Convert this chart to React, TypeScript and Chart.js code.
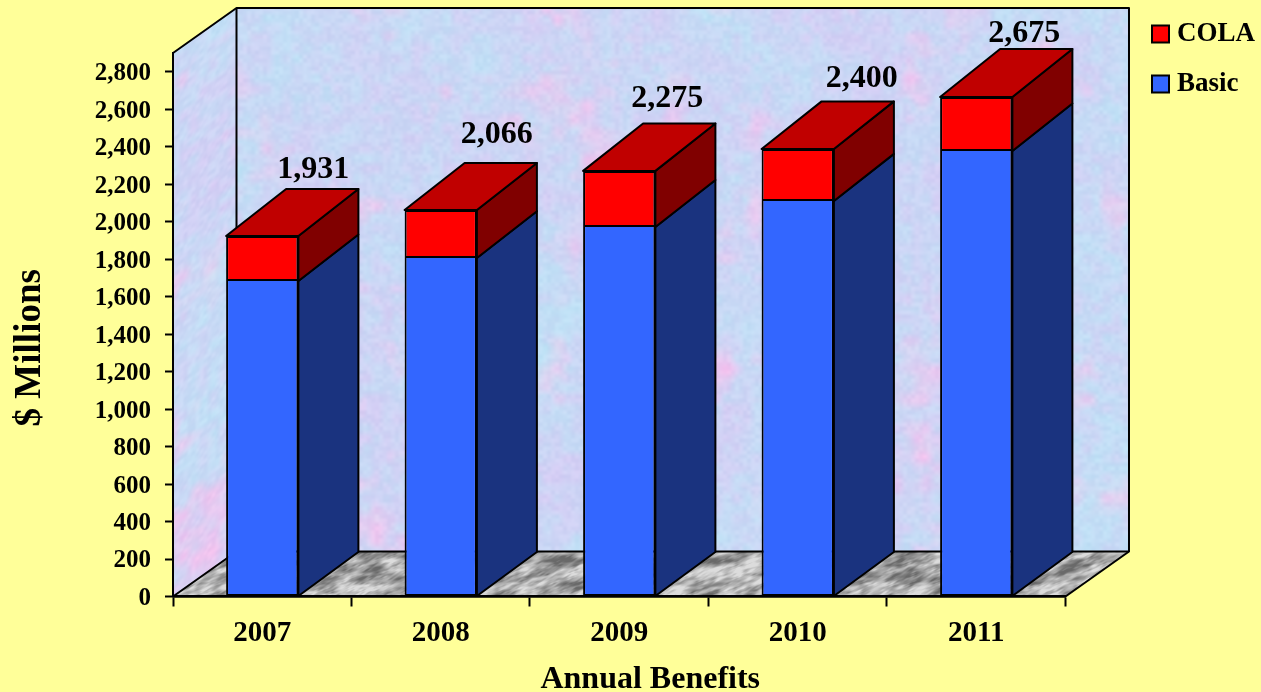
import React, { useEffect, useRef } from "react";
import { Chart, registerables } from "chart.js";

Chart.register(...registerables);

const years = ["2007", "2008", "2009", "2010", "2011"];
const basic = [1683, 1806, 1972, 2110, 2377];
const cola = [241, 256, 299, 278, 288];
const totals = ["1,931", "2,066", "2,275", "2,400", "2,675"];

const PAGE = "#FFFF99";
const SERIF = "'Liberation Serif', 'Times New Roman', serif";
const WALL_DX = 63.5;
const WALL_DY = 45;
const BAR_DX = 60;
const LABEL_NUDGE = [
  [51, -66], [56, -75], [48, -72], [64, -70], [48, -63],
];

const hash = (x: number, y: number, s: number) => {
  const v = Math.sin(x * 127.1 + y * 311.7 + s * 74.7) * 43758.5453;
  return v - Math.floor(v);
};
const noise = (x: number, y: number, s: number) => {
  const xi = Math.floor(x), yi = Math.floor(y);
  let fx = x - xi, fy = y - yi;
  fx = fx * fx * (3 - 2 * fx);
  fy = fy * fy * (3 - 2 * fy);
  const a = hash(xi, yi, s), b = hash(xi + 1, yi, s);
  const c = hash(xi, yi + 1, s), d = hash(xi + 1, yi + 1, s);
  return a + (b - a) * fx + (c - a) * fy + (a - b - c + d) * fx * fy;
};

function makeTexture(w: number, h: number, shade: (x: number, y: number) => number[]) {
  const c = document.createElement("canvas");
  c.width = w;
  c.height = h;
  const g = c.getContext("2d")!;
  const img = g.createImageData(w, h);
  for (let y = 0; y < h; y++) {
    for (let x = 0; x < w; x++) {
      const [r, gg, b] = shade(x, y);
      const i = (y * w + x) * 4;
      img.data[i] = r;
      img.data[i + 1] = gg;
      img.data[i + 2] = b;
      img.data[i + 3] = 255;
    }
  }
  g.putImageData(img, 0, 0);
  return c;
}

const wallShade = (x: number, y: number) => {
  const pink = Math.max(0, noise(x / 40, y / 40, 1) * 0.65 + noise(x / 14, y / 14, 2) * 0.35 - 0.58) * 2.6;
  const lilac = noise(x / 60, y / 60, 3) * 0.5 + noise(x / 10, y / 10, 4) * 0.5;
  const fine = noise(x / 4, y / 4, 5) - 0.5;
  const cyan = noise(x / 80, y / 80, 6);
  let r = 192 + lilac * 26 + fine * 12 - cyan * 6;
  let g = 224 - lilac * 24 + fine * 10 + cyan * 6;
  let b = 246 - lilac * 2 + fine * 6;
  r += pink * 36;
  g -= pink * 14;
  b -= pink * 6;
  return [r, g, b];
};

const floorShade = (x: number, y: number) => {
  const n =
    noise(x / 22, y / 10, 7) * 0.45 + noise(x / 8, y / 5, 8) * 0.35 + noise(x / 3, y / 2.5, 9) * 0.2;
  const v = 105 + Math.min(1, Math.max(0, (n - 0.25) * 2.1)) * 115;
  return [v, v, v];
};

let textures: { wall: HTMLCanvasElement; floor: HTMLCanvasElement } | null = null;
const getTextures = () => {
  if (!textures) {
    textures = { wall: makeTexture(960, 640, wallShade), floor: makeTexture(960, 50, floorShade) };
  }
  return textures;
};

const poly = (ctx: CanvasRenderingContext2D, pts: number[][]) => {
  ctx.beginPath();
  pts.forEach(([x, y], i) => (i ? ctx.lineTo(x, y) : ctx.moveTo(x, y)));
  ctx.closePath();
};

const face = (ctx: CanvasRenderingContext2D, pts: number[][], fill: string) => {
  poly(ctx, pts);
  ctx.fillStyle = fill;
  ctx.fill();
  ctx.lineWidth = 2;
  ctx.strokeStyle = "#000";
  ctx.lineJoin = "round";
  ctx.stroke();
};

const shifted = (chart: any, owner: any, method: string, dx: number, dy: number) => {
  const orig = owner[method].bind(owner);
  owner[method] = (...args: any[]) => {
    chart.ctx.save();
    chart.ctx.translate(dx, dy);
    orig(...args);
    chart.ctx.restore();
  };
};

const stagePlugin = {
  id: "stage",
  afterLayout(chart: any) {
    const lg = chart.legend;
    if (lg) {
      lg.left = 1157.5 - lg.options.labels.padding;
      lg.right = 1261;
      lg.top = -2.5;
      lg.bottom = 140;
    }
    const { x, y } = chart.scales;
    if (!y.__moved) {
      shifted(chart, y, "drawTitle", 0, 23);
      shifted(chart, y, "drawLabels", 0, 2);
      shifted(chart, x, "drawTitle", 31, 2);
      y.__moved = true;
    }
  },
  beforeDraw(chart: any) {
    const { ctx, width, height, chartArea: a } = chart;
    const { wall, floor } = getTextures();
    ctx.save();
    ctx.fillStyle = PAGE;
    ctx.fillRect(0, 0, width, height);

    const bl = a.left + WALL_DX;
    const br = a.right + WALL_DX;
    const bt = a.top - WALL_DY;
    const bb = a.bottom - WALL_DY;

    // back wall
    ctx.drawImage(wall, 0, 0, br - bl, bb - bt, bl, bt, br - bl, bb - bt);

    // side wall
    ctx.save();
    poly(ctx, [[a.left, a.top], [bl, bt], [bl, bb], [a.left, a.bottom]]);
    ctx.clip();
    ctx.transform(1, -WALL_DY / WALL_DX, 0, 1, a.left, a.top);
    ctx.drawImage(wall, 200, 50, WALL_DX, a.bottom - a.top, 0, 0, WALL_DX, a.bottom - a.top);
    ctx.restore();

    // floor
    ctx.save();
    poly(ctx, [[a.left, a.bottom], [bl, bb], [br, bb], [a.right, a.bottom]]);
    ctx.clip();
    ctx.transform(1, 0, -WALL_DX / WALL_DY, 1, a.left + WALL_DX, bb);
    ctx.drawImage(floor, 0, 0, a.right - a.left, WALL_DY);
    ctx.restore();

    ctx.lineWidth = 2;
    ctx.strokeStyle = "#000";
    ctx.lineJoin = "round";
    poly(ctx, [[a.left, a.top], [bl, bt], [br, bt], [br, bb], [a.right, a.bottom], [a.left, a.bottom]]);
    ctx.stroke();
    ctx.beginPath();
    ctx.moveTo(bl, bt);
    ctx.lineTo(bl, bb);
    ctx.lineTo(br, bb);
    ctx.moveTo(bl, bb);
    ctx.lineTo(a.left, a.bottom);
    ctx.stroke();
    ctx.restore();
  },
  beforeDatasetsDraw(chart: any) {
    const { ctx, chartArea: area } = chart;
    const lower = chart.getDatasetMeta(0).data;
    const upper = chart.getDatasetMeta(1).data;
    // the receding edges lengthen a little with height, as in a perspective view
    const back = (py: number) => py - (44 + ((area.bottom - py) / 500) * 4);
    ctx.save();
    lower.forEach((b: any, i: number) => {
      const t = upper[i];
      const r = b.x + b.width / 2;
      const l = b.x - b.width / 2;
      face(ctx, [[r, b.base], [r + BAR_DX, back(b.base)], [r + BAR_DX, back(b.y)], [r, b.y]], "#1A337F");
      face(ctx, [[r, b.y], [r + BAR_DX, back(b.y)], [r + BAR_DX, back(t.y)], [r, t.y]], "#800000");
      face(ctx, [[l, t.y], [l + BAR_DX, back(t.y)], [r + BAR_DX, back(t.y)], [r, t.y]], "#C00000");
    });
    ctx.restore();
  },
  afterDatasetsDraw(chart: any) {
    const { ctx } = chart;
    const upper = chart.getDatasetMeta(1).data;
    ctx.save();
    ctx.fillStyle = "#000";
    ctx.font = `bold 32px ${SERIF}`;
    ctx.textAlign = "center";
    ctx.textBaseline = "middle";
    upper.forEach((t: any, i: number) => {
      ctx.fillText(totals[i], t.x + LABEL_NUDGE[i][0], t.y + LABEL_NUDGE[i][1]);
    });
    ctx.restore();
  },
};

export default function App() {
  const ref = useRef<HTMLCanvasElement>(null);

  useEffect(() => {
    document.body.style.margin = "0";
    document.body.style.background = PAGE;
    const chart = new Chart(ref.current!, {
      type: "bar",
      plugins: [stagePlugin as any],
      data: {
        labels: years,
        datasets: [
          { label: "Basic", data: basic, backgroundColor: "#3366FF", borderColor: "#000", borderWidth: 2, borderSkipped: "top" },
          { label: "COLA", data: cola, backgroundColor: "#FF0000", borderColor: "#000", borderWidth: 2, borderSkipped: false },
        ],
      },
      options: {
        responsive: false,
        animation: false,
        devicePixelRatio: 1,
        layout: { padding: { top: 53, left: 0, right: 65, bottom: 0 } },
        datasets: { bar: { barPercentage: 0.81, categoryPercentage: 0.5 } },
        plugins: {
          tooltip: { enabled: false },
          legend: {
            position: "right",
            align: "start",
            reverse: true,
            labels: {
              usePointStyle: true,
              pointStyle: "rect",
              boxWidth: 6,
              boxHeight: 17,
              padding: 23,
              color: "#000",
              font: { family: SERIF, size: 27, weight: "bold" },
            },
          },
        },
        scales: {
          x: {
            stacked: true,
            afterFit: (s: any) => {
              s.height = 95.5;
            },
            grid: { drawOnChartArea: false, drawTicks: true, tickLength: 10, tickColor: "#000", tickWidth: 2 },
            border: { color: "#000", width: 2.5 },
            ticks: {
              color: "#000",
              padding: 10,
              autoSkip: false,
              maxRotation: 0,
              font: { family: SERIF, size: 29, weight: "bold" },
            },
            title: {
              display: true,
              text: "Annual Benefits",
              color: "#000",
              padding: { top: 0, bottom: -2 },
              font: { family: SERIF, size: 32, weight: "bold", lineHeight: 1 },
            },
          },
          y: {
            stacked: true,
            min: 0,
            max: 2900,
            afterFit: (s: any) => {
              s.width = 173;
            },
            grid: { drawOnChartArea: false, drawTicks: true, tickLength: 8, tickColor: "#000", tickWidth: 2 },
            border: { color: "#000", width: 2 },
            ticks: {
              stepSize: 200,
              includeBounds: false,
              color: "#000",
              padding: 14,
              font: { family: SERIF, size: 25, weight: "bold" },
              callback: (v: any) => Number(v).toLocaleString("en-US"),
            },
            title: {
              display: true,
              text: "$ Millions",
              color: "#000",
              padding: { top: 8, bottom: 0 },
              font: { family: SERIF, size: 37, weight: "bold", lineHeight: 1.2 },
            },
          },
        },
      },
    } as any);
    return () => chart.destroy();
  }, []);

  return <canvas ref={ref} width={1261} height={692} style={{ display: "block" }} />;
}
